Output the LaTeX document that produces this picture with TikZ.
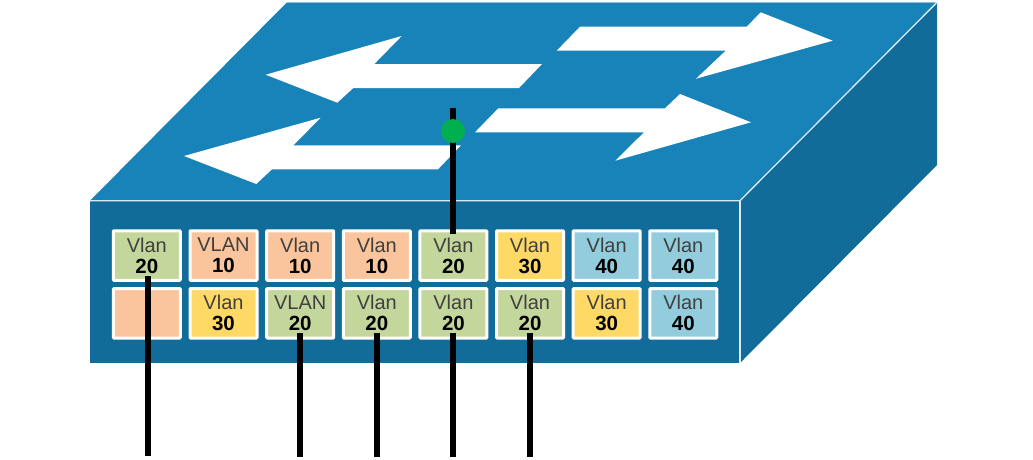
\documentclass[tikz,border=0pt]{standalone}
\usepackage{fontspec}
\setmainfont{Liberation Sans}
\definecolor{topface}{HTML}{1883B9}
\definecolor{frontface}{HTML}{126C9A}
\definecolor{edgeline}{HTML}{DCEAF2}
\definecolor{vgreen}{HTML}{C3D69B}
\definecolor{vorange}{HTML}{FAC49C}
\definecolor{vyellow}{HTML}{FFD966}
\definecolor{vblue}{HTML}{93CDDD}
\definecolor{vtext}{HTML}{404040}
\definecolor{dotgreen}{HTML}{00B050}
\tikzset{
  portbox/.style={draw=white,line width=3pt,rounded corners=0.8pt,minimum width=67pt,minimum height=49.5pt,
    inner sep=0pt,align=center,text=vtext,font=\fontsize{20}{21}\selectfont},
  flowarrow/.style={fill=white,draw=none},
  cable/.style={draw=black,line width=6pt},
  faceedge/.style={draw=edgeline,line width=1.3pt}
}
\newcommand{\vnum}[1]{\textcolor{black}{\fontsize{20.5}{21}\selectfont\textbf{#1}}}
\begin{document}
\begin{tikzpicture}[x=1pt,y=-1pt]
\useasboundingbox (0,0) rectangle (1033,459);
% faces
\fill[topface] (287,2.3) -- (937,2.3) -- (740,200.7) -- (90,200.7) -- cycle;
\fill[frontface] (90,200.7) rectangle (740,363);
\fill[frontface] (740,200.7) -- (937,2.3) -- (937,165) -- (740,363) -- cycle;
\draw[edgeline!60!topface,line width=1pt] (287,2.3) -- (937,2.3);
\draw[faceedge] (90,200.7) -- (740,200.7) -- (937,2.3);
\draw[faceedge] (740,200.7) -- (740,363);
% arrows
\fill[flowarrow] (265.7,74.7) -- (401.7,36) -- (374.3,64) -- (542,64) -- (519,88) -- (353.3,88) -- (337.3,102.7) -- cycle;
\fill[flowarrow] (184,156) -- (320.7,117.7) -- (293.3,145.3) -- (461,145.3) -- (438,169.3) -- (272,169.3) -- (256.3,184) -- cycle;
\fill[flowarrow] (832.7,40.7) -- (760.7,12.3) -- (746.7,26.7) -- (580,26.7) -- (556.7,50.7) -- (725.7,50.7) -- (696,78.7) -- cycle;
\fill[flowarrow] (751,122.3) -- (680,94) -- (665,108.3) -- (498.3,108.3) -- (475,132.3) -- (644,132.3) -- (615.3,160.7) -- cycle;
% ports, top row
\node[portbox,fill=vgreen]  (a1) at (146.8,255.5) {Vlan\\\vnum{20}};
\node[portbox,fill=vorange] (a2) at (223.5,255.5) {VLAN\\\vnum{10}};
\node[portbox,fill=vorange] (a3) at (300.2,255.5) {Vlan\\\vnum{10}};
\node[portbox,fill=vorange] (a4) at (376.8,255.5) {Vlan\\\vnum{10}};
\node[portbox,fill=vgreen]  (a5) at (453.4,255.5) {Vlan\\\vnum{20}};
\node[portbox,fill=vyellow] (a6) at (530.0,255.5) {Vlan\\\vnum{30}};
\node[portbox,fill=vblue]   (a7) at (606.7,255.5) {Vlan\\\vnum{40}};
\node[portbox,fill=vblue]   (a8) at (683.3,255.5) {Vlan\\\vnum{40}};
% ports, bottom row
\node[portbox,fill=vorange] (b1) at (146.8,313.3) {};
\node[portbox,fill=vyellow] (b2) at (223.5,313.3) {Vlan\\\vnum{30}};
\node[portbox,fill=vgreen]  (b3) at (300.2,313.3) {VLAN\\\vnum{20}};
\node[portbox,fill=vgreen]  (b4) at (376.8,313.3) {Vlan\\\vnum{20}};
\node[portbox,fill=vgreen]  (b5) at (453.4,313.3) {Vlan\\\vnum{20}};
\node[portbox,fill=vgreen]  (b6) at (530.0,313.3) {Vlan\\\vnum{20}};
\node[portbox,fill=vyellow] (b7) at (606.7,313.3) {Vlan\\\vnum{30}};
\node[portbox,fill=vblue]   (b8) at (683.3,313.3) {Vlan\\\vnum{40}};
% cable ends
\coordinate (s1) at (148.3,276);
\coordinate (e1) at (148.3,456);
\coordinate (s3) at (300,333);
\coordinate (e3) at (300,457);
\coordinate (s4) at (376.8,333);
\coordinate (e4) at (376.8,457);
\coordinate (s5) at (453.3,333);
\coordinate (e5) at (453.3,457);
\coordinate (s6) at (530,333);
\coordinate (e6) at (530,457);
\coordinate (u1) at (453.3,107.5);
\coordinate (u2) at (453.3,234);
\draw[cable] (s1) -- (e1);
\draw[cable] (s3) -- (e3);
\draw[cable] (s4) -- (e4);
\draw[cable] (s5) -- (e5);
\draw[cable] (s6) -- (e6);
\draw[cable] (u1) -- (u2);
\node[circle,fill=dotgreen,minimum size=24pt,inner sep=0pt] (dot) at (453,131) {};
\end{tikzpicture}
\end{document}
